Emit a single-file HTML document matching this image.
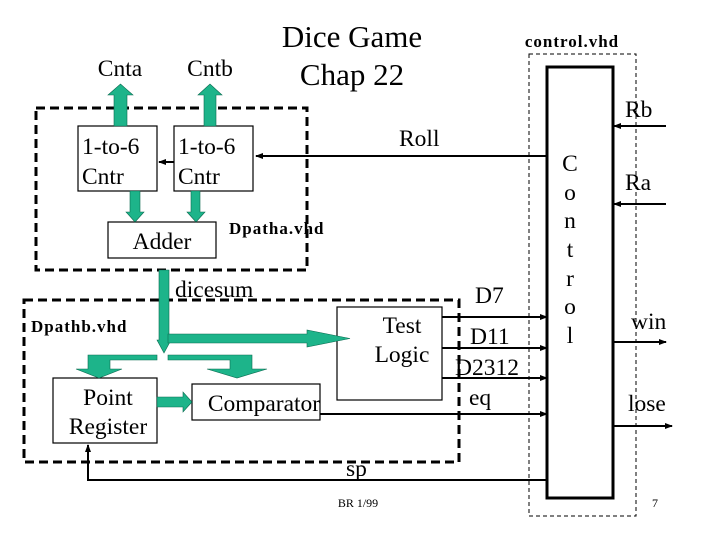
<!DOCTYPE html>
<html><head><style>body{margin:0;background:#fff}svg{display:block}text{font-family:"Liberation Serif",serif}</style></head>
<body>
<svg width="720" height="540" viewBox="0 0 720 540" xmlns="http://www.w3.org/2000/svg">
<defs><marker id="a" markerWidth="8" markerHeight="8" refX="7" refY="4" orient="auto" markerUnits="userSpaceOnUse"><path d="M0,1 L8,4 L0,7 z" fill="#000"/></marker></defs>
<g fill="none" stroke="#000">
<rect x="36" y="108" width="271" height="162" stroke-width="3" stroke-dasharray="9,5"/>
<rect x="24" y="300" width="435" height="162" stroke-width="3" stroke-dasharray="9,5"/>
<rect x="529" y="54" width="107" height="462" stroke-width="1" stroke-dasharray="4,3"/>
<rect x="547" y="67" width="66" height="431" stroke-width="3"/>
</g>
<g fill="#fff" stroke="#000" stroke-width="1.2">
<rect x="78" y="126" width="79" height="65"/>
<rect x="174" y="126" width="79" height="65"/>
<rect x="108" y="222" width="108" height="36"/>
<rect x="337" y="307" width="105" height="93"/>
<rect x="53" y="378" width="104" height="65"/>
<rect x="192" y="384" width="128" height="36"/>
</g>
<g fill="#1db48a" stroke="#0a6b50" stroke-width="0.6">
<path d="M114,126 V95 H108 L120.5,84 L133,95 H127 V126 z"/>
<path d="M204,126 V95 H198 L210,84 L222,95 H216 V126 z"/>
<path d="M130,191 V212 H126 L135,222 L144,212 H140 V191 z"/>
<path d="M191,191 V212 H187 L196,222 L205,212 H200 V191 z"/>
<path d="M159,270 V340 H157 L164,353 L171,340 H169 V270 z"/>
<path d="M168,334 H307 V330 L350,338.5 L307,347 V343 H168 z"/>
<path d="M157,355 H88 V369 H76 L99,378 L122,369 H110 V360 H157 z"/>
<path d="M168,355 H252 V369 H267 L237,378 L207,369 H230 V360 H168 z"/>
<path d="M157,397 H183 V392 L192,402 L183,412 V407 H157 z"/>
</g>
<g stroke="#000" stroke-width="2" fill="none">
<line x1="547" y1="156" x2="256" y2="156" marker-end="url(#a)"/>
<line x1="174" y1="162" x2="159" y2="162" marker-end="url(#a)"/>
<line x1="442" y1="317" x2="547" y2="317" marker-end="url(#a)"/>
<line x1="442" y1="348" x2="547" y2="348" marker-end="url(#a)"/>
<line x1="442" y1="378" x2="547" y2="378" marker-end="url(#a)"/>
<line x1="320" y1="414" x2="547" y2="414" marker-end="url(#a)"/>
<polyline points="547,480 88,480 88,445" marker-end="url(#a)"/>
<line x1="666" y1="126" x2="614" y2="126" marker-end="url(#a)"/>
<line x1="666" y1="204" x2="614" y2="204" marker-end="url(#a)"/>
<line x1="613" y1="342" x2="666" y2="342" marker-end="url(#a)"/>
<line x1="613" y1="426" x2="672" y2="426" marker-end="url(#a)"/>
</g>
<g font-size="23.5" fill="#000">
<text x="120" y="76" text-anchor="middle">Cnta</text>
<text x="210" y="76" text-anchor="middle">Cntb</text>
<text x="352" y="47" text-anchor="middle" font-size="31">Dice Game</text>
<text x="352" y="85" text-anchor="middle" font-size="31">Chap 22</text>
<text x="82" y="154">1-to-6</text><text x="82" y="184">Cntr</text>
<text x="178" y="154">1-to-6</text><text x="178" y="184">Cntr</text>
<text x="162" y="249" text-anchor="middle">Adder</text>
<text x="399" y="146">Roll</text>
<text x="175" y="297">dicesum</text>
<text x="402" y="333" text-anchor="middle">Test</text>
<text x="402" y="362" text-anchor="middle">Logic</text>
<text x="108" y="405" text-anchor="middle">Point</text>
<text x="108" y="434" text-anchor="middle">Register</text>
<text x="264" y="411" text-anchor="middle">Comparator</text>
<text x="475" y="303">D7</text>
<text x="470" y="344">D11</text>
<text x="455" y="375">D2312</text>
<text x="469" y="405">eq</text>
<text x="346" y="476">sp</text>
<text x="625" y="117">Rb</text>
<text x="625" y="190">Ra</text>
<text x="631" y="329">win</text>
<text x="628" y="411">lose</text>
<g text-anchor="middle"><text x="570" y="171">C</text><text x="570" y="200">o</text><text x="570" y="228">n</text><text x="570" y="257">t</text><text x="570" y="286">r</text><text x="570" y="314">o</text><text x="570" y="343">l</text></g>
</g>
<g font-weight="bold" font-size="17" letter-spacing="1"><text x="229" y="234">Dpatha.vhd</text><text x="31" y="332">Dpathb.vhd</text><text x="572" y="47" text-anchor="middle">control.vhd</text></g>
<text x="358" y="507" font-size="12" text-anchor="middle" font-family="Liberation Sans,sans-serif">BR 1/99</text>
<text x="655" y="507" font-size="12" text-anchor="middle">7</text>
</svg>
</body></html>
